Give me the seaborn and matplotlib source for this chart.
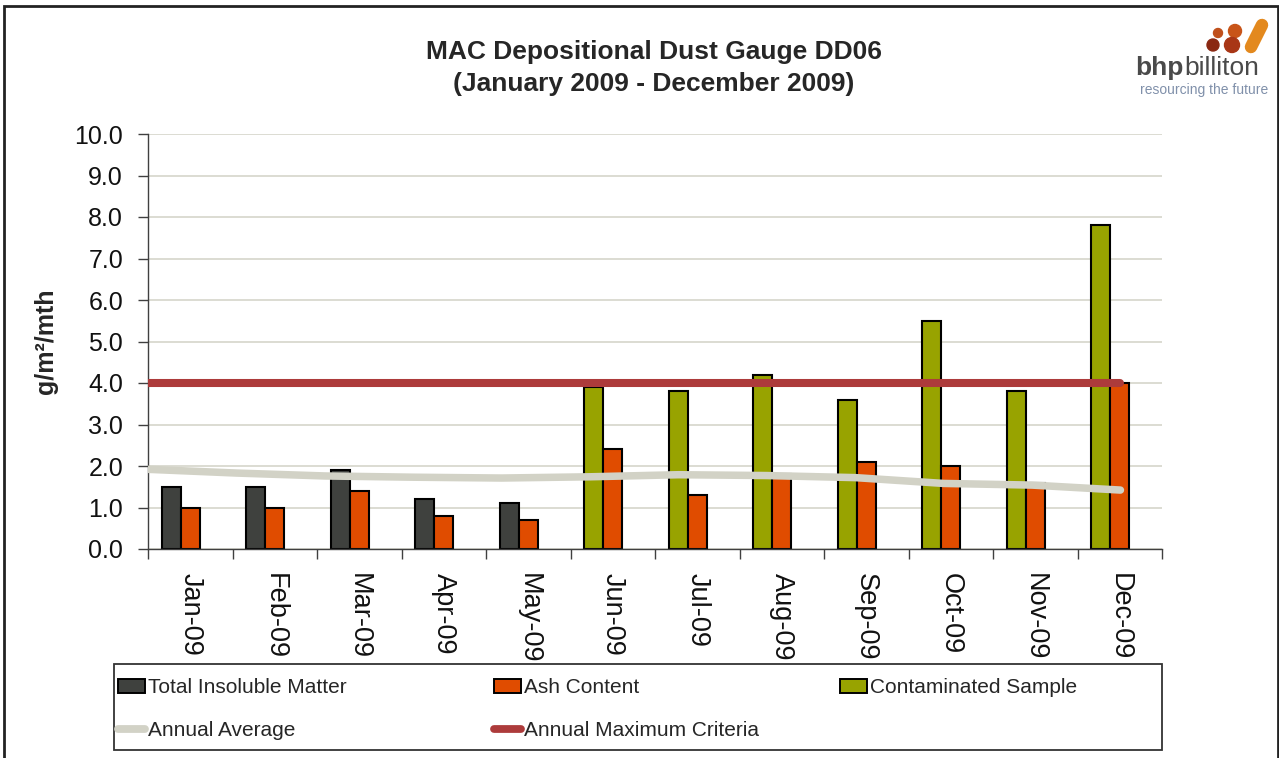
import numpy as np
import pandas as pd
import matplotlib
matplotlib.use("Agg")
import matplotlib.pyplot as plt
import seaborn as sns
from matplotlib.patches import Rectangle, Circle, Patch
from matplotlib.lines import Line2D

months = ["Jan-09", "Feb-09", "Mar-09", "Apr-09", "May-09", "Jun-09",
          "Jul-09", "Aug-09", "Sep-09", "Oct-09", "Nov-09", "Dec-09"]
total_insoluble = [1.5, 1.5, 1.9, 1.2, 1.1, None, None, None, None, None, None, None]
contaminated = [None, None, None, None, None, 3.9, 3.8, 4.2, 3.6, 5.5, 3.8, 7.8]
ash_content = [1.0, 1.0, 1.4, 0.8, 0.7, 2.4, 1.3, 1.8, 2.1, 2.0, 1.6, 4.0]
annual_average = [1.92, 1.83, 1.76, 1.73, 1.71, 1.74, 1.79, 1.77, 1.72, 1.58, 1.54, 1.42]
annual_max = [4.0] * 12

c_dark = "#3f413e"
c_ash = "#e04c00"
c_green = "#98a300"
c_avg = "#d2d2c6"
c_max = "#ad3b3b"

# first bar slot holds total insoluble or the contaminated sample
first_slot = [t if t is not None else c for t, c in zip(total_insoluble, contaminated)]
first_col = [c_dark if t is not None else c_green for t in total_insoluble]

df = pd.DataFrame({
    "month": months * 3,
    "slot": ["a"] * 12 + ["b"] * 12 + ["c"] * 12,
    "value": first_slot + ash_content + [0.0] * 12,
})

sns.set_style("white")
plt.rcParams["font.family"] = ["Liberation Sans", "DejaVu Sans"]

fig = plt.figure(figsize=(12.79, 7.58), dpi=100)
ax = fig.add_axes([148 / 1279, 1 - 549 / 758, 1014 / 1279, 415 / 758])

sns.barplot(data=df, x="month", y="value", hue="slot", hue_order=["a", "b", "c"],
            palette={"a": c_dark, "b": c_ash, "c": "white"}, width=0.675,
            saturation=1, dodge=True, legend=False, ax=ax, zorder=2,
            edgecolor="black", linewidth=1.5, errorbar=None)

for bar, col in zip(ax.containers[0], first_col):
    bar.set_facecolor(col)
for bar in ax.containers[2]:
    bar.set_visible(False)

ax.set_ylim(0, 10)
ax.set_xlim(-0.5, 11.5)
ax.set_yticks(np.arange(0, 11, 1))
ax.set_yticklabels([f"{v:.1f}" for v in np.arange(0, 11, 1)], fontsize=18, color="#111111")
ax.set_xticks(range(12))
ax.set_xticklabels(months, rotation=270, fontsize=19.5, color="#111111", va="top", ha="center")
ax.set_xticks(np.arange(-0.5, 12, 1), minor=True)
ax.tick_params(axis="x", which="major", length=0, pad=17)
ax.tick_params(axis="x", which="minor", length=7, width=1, color="#404040", direction="out")
ax.tick_params(axis="y", length=7, width=1, color="#404040", direction="out", pad=11, left=True)
ax.yaxis.grid(True, color="#d9d9cf", linewidth=1.3, zorder=0)
ax.xaxis.grid(False)
ax.set_axisbelow(True)
for s in ["top", "right"]:
    ax.spines[s].set_visible(False)
for s in ["left", "bottom"]:
    ax.spines[s].set_color("#404040")
    ax.spines[s].set_linewidth(1.0)
ax.set_xlabel("")
ax.set_ylabel("g/m²/mth", fontsize=18, fontweight="bold", labelpad=12)

# lines sit on a secondary category axis like the Excel original
ax2 = ax.twiny()
ax2.set_xlim(0, 11.47)
ax2.set_ylim(0, 10)
sns.lineplot(x=range(12), y=annual_average, ax=ax2, color=c_avg, linewidth=5.4,
             solid_capstyle="round", zorder=3)
sns.lineplot(x=range(12), y=annual_max, ax=ax2, color=c_max, linewidth=5.8,
             solid_capstyle="round", zorder=4)
ax2.axis("off")

fig.text(654 / 1279, 1 - 52 / 758, "MAC Depositional Dust Gauge DD06", ha="center",
         va="center", fontsize=19, fontweight="bold")
fig.text(654 / 1279, 1 - 84 / 758, "(January 2009 - December 2009)", ha="center",
         va="center", fontsize=19, fontweight="bold")

# legend, one block per column
bar_h = lambda col: Patch(facecolor=col, edgecolor="black", linewidth=1.4)
line_h = lambda col: Line2D([], [], color=col, linewidth=5.6, solid_capstyle="round")
columns = [
    (118, [bar_h(c_dark), line_h(c_avg)], ["Total Insoluble Matter", "Annual Average"]),
    (494, [bar_h(c_ash), line_h(c_max)], ["Ash Content", "Annual Maximum Criteria"]),
    (840, [bar_h(c_green)], ["Contaminated Sample"]),
]
for x0, hs, ls in columns:
    fig.legend(hs, ls, loc="upper left", bbox_to_anchor=(x0 / 1279, 1 - 678 / 758),
               frameon=False, fontsize=15, handlelength=1.3, handleheight=0.65,
               handletextpad=0.12, labelspacing=1.15, borderpad=0, borderaxespad=0)
fig.patches.append(Rectangle((113.5 / 1279, 1 - 750 / 758), (1162 - 113.5) / 1279,
                             86 / 758, transform=fig.transFigure, fill=False,
                             edgecolor="#333333", linewidth=1.3))

# outer chart border
fig.patches.append(Rectangle((4 / 1279, -0.05), 1274 / 1279, 1.05 - 6 / 758,
                             transform=fig.transFigure, fill=False,
                             edgecolor="#222222", linewidth=2.0))

# logo
fig.text(1184 / 1279, 1 - 68 / 758, "bhp", fontsize=19, fontweight="bold",
         color="#4a4a4a", va="center", ha="right")
fig.text(1184 / 1279, 1 - 68 / 758, "billiton", fontsize=19, color="#4a4a4a",
         va="center", ha="left")
fig.text(1204 / 1279, 1 - 90 / 758, "resourcing the future", fontsize=10,
         color="#8090aa", va="center", ha="center")
lax = fig.add_axes([1205 / 1279, 1 - 55 / 758, 65 / 1279, 37 / 758])
lax.set_xlim(0, 65)
lax.set_ylim(37, 0)
lax.axis("off")
for (cx, cy, r, col) in [(13, 15, 4.5, "#c0501c"), (8, 27, 6.0, "#8a2812"),
                         (30, 13, 6.5, "#c85418"), (27, 27, 7.5, "#a83616")]:
    lax.add_patch(Circle((cx, cy), r, color=col))
lax.plot([57, 46], [7, 29], color="#e3891e", linewidth=9, solid_capstyle="round")

fig.savefig("out.png", dpi=100)
